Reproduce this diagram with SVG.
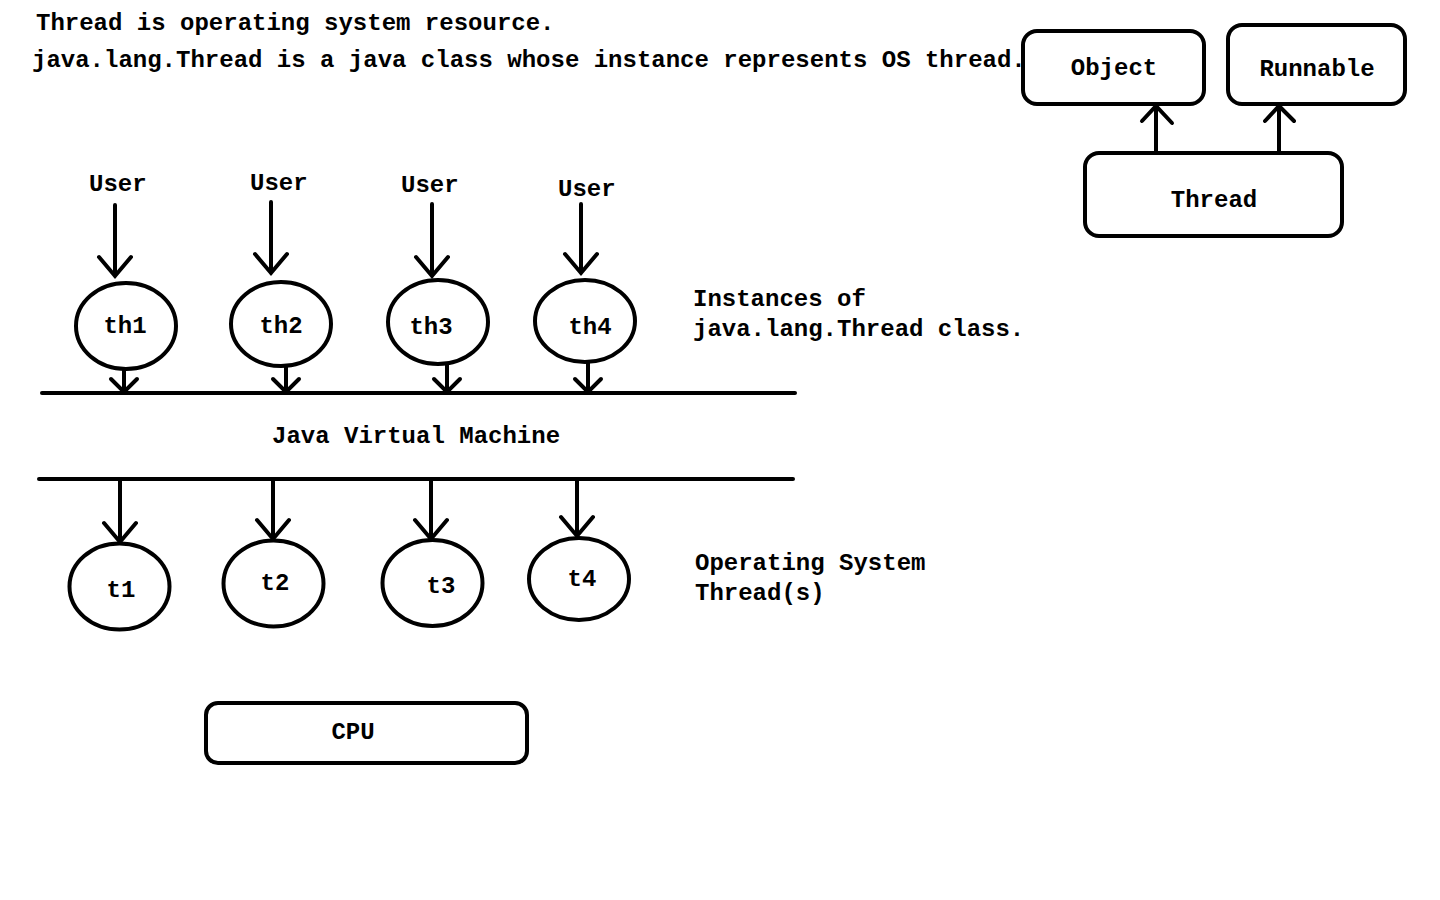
<svg xmlns="http://www.w3.org/2000/svg" width="1440" height="900" viewBox="0 0 1440 900">
<defs>
<style>
text{font-family:"Liberation Mono","Courier New",monospace;font-weight:bold;font-size:24px;fill:#000}
.c{text-anchor:middle}
.sh{fill:#fff;stroke:#000;stroke-width:4}
.ln{stroke:#000;stroke-width:4;fill:none;stroke-linecap:round}
</style>
</defs>
<rect width="1440" height="900" fill="#fff"/>
<g id="header">
<text x="36" y="30">Thread is operating system resource.</text>
<text x="32" y="67">java.lang.Thread is a java class whose instance represents OS thread.</text>
</g>
<g id="connectors">
<g class="ln">
<path d="M115,205 V276 M99,257 L115,276 L131,257"/>
<path d="M271,202 V273 M255,254 L271,273 L287,254"/>
<path d="M432,204 V276 M416,257 L432,276 L448,257"/>
<path d="M581,204 V273 M565,254 L581,273 L597,254"/>
<path d="M124,369 V392 M111,379 L124,392 L137,379"/>
<path d="M286,366 V392 M273,379 L286,392 L299,379"/>
<path d="M447,364 V392 M434,379 L447,392 L460,379"/>
<path d="M588,362 V392 M575,379 L588,392 L601,379"/>
<path d="M120,481 V542 M104,523 L120,542 L136,523"/>
<path d="M273,481 V539 M257,520 L273,539 L289,520"/>
<path d="M431,481 V539 M415,520 L431,539 L447,520"/>
<path d="M577,481 V536 M561,517 L577,536 L593,517"/>
<path d="M1156,151 V106 M1142,121 L1156,106 L1172,123"/>
<path d="M1279,151 V106 M1265,121 L1279,106 L1294,121"/>
</g>
<line class="ln" x1="42" y1="393" x2="795" y2="393" stroke-linecap="butt"/>
<line class="ln" x1="39" y1="479" x2="793" y2="479" stroke-linecap="butt"/>
</g>
<g id="users">
<text x="89" y="191">User</text>
<text x="250" y="190">User</text>
<text x="401" y="192">User</text>
<text x="558" y="196">User</text>
</g>
<g id="th1"><ellipse class="sh" cx="126" cy="326" rx="50" ry="43"/><text class="c" x="125" y="333">th1</text></g>
<g id="th2"><ellipse class="sh" cx="281" cy="324" rx="50" ry="42"/><text class="c" x="281" y="333">th2</text></g>
<g id="th3"><ellipse class="sh" cx="438" cy="322" rx="50" ry="42"/><text class="c" x="431" y="334">th3</text></g>
<g id="th4"><ellipse class="sh" cx="585" cy="321" rx="50" ry="41"/><text class="c" x="590" y="334">th4</text></g>
<g id="instances-label">
<text x="693" y="306">Instances of</text>
<text x="693" y="336">java.lang.Thread class.</text>
</g>
<g id="jvm"><text x="272" y="443">Java Virtual Machine</text></g>
<g id="t1"><ellipse class="sh" cx="119.5" cy="586.5" rx="50" ry="43"/><text class="c" x="121" y="597">t1</text></g>
<g id="t2"><ellipse class="sh" cx="273.5" cy="583.5" rx="50" ry="43"/><text class="c" x="275" y="590">t2</text></g>
<g id="t3"><ellipse class="sh" cx="432.5" cy="583" rx="50" ry="43"/><text class="c" x="441" y="593">t3</text></g>
<g id="t4"><ellipse class="sh" cx="579" cy="579" rx="50" ry="41"/><text class="c" x="582" y="586">t4</text></g>
<g id="os-label">
<text x="695" y="570">Operating System</text>
<text x="695" y="600">Thread(s)</text>
</g>
<g id="cpu"><rect class="sh" x="206" y="703" width="321" height="60" rx="12"/><text class="c" x="353" y="739">CPU</text></g>
<g id="object"><rect class="sh" x="1023" y="31" width="181" height="73" rx="14"/><text class="c" x="1114" y="75">Object</text></g>
<g id="runnable"><rect class="sh" x="1228" y="25" width="177" height="79" rx="14"/><text class="c" x="1317" y="76">Runnable</text></g>
<g id="thread"><rect class="sh" x="1085" y="153" width="257" height="83" rx="14"/><text class="c" x="1214" y="207">Thread</text></g>
</svg>
